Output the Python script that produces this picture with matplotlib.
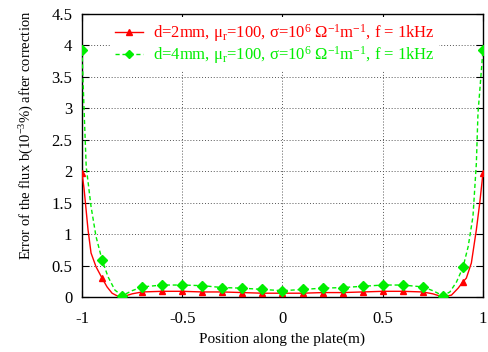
import matplotlib
matplotlib.use("Agg")
import matplotlib.pyplot as plt

plt.rcParams['font.family'] = ['Liberation Serif', 'DejaVu Serif']
plt.rcParams['mathtext.fontset'] = 'custom'
plt.rcParams['mathtext.rm'] = 'Liberation Serif'
plt.rcParams['mathtext.it'] = 'Liberation Serif:italic'

# marker positions (every 0.1 along the plate)
pos_markers = [-1.0, -0.9, -0.8, -0.7, -0.6, -0.5, -0.4, -0.3, -0.2, -0.1, 0.0,
               0.1, 0.2, 0.3, 0.4, 0.5, 0.6, 0.7, 0.8, 0.9, 1.0]
err_2mm_markers = [1.97, 0.30, 0.01, 0.08, 0.09, 0.09, 0.08, 0.08, 0.07, 0.06, 0.06,
                   0.06, 0.07, 0.07, 0.08, 0.09, 0.09, 0.08, 0.0, 0.24, 1.97]
err_4mm_markers = [3.92, 0.59, 0.02, 0.16, 0.19, 0.19, 0.18, 0.15, 0.14, 0.12, 0.10,
                   0.12, 0.14, 0.15, 0.17, 0.19, 0.19, 0.16, 0.02, 0.47, 3.93]

# curves (denser near the edges)
pos_2mm = [-1.0, -0.99, -0.97, -0.955, -0.93, -0.9, -0.875, -0.85, -0.82, -0.8, -0.75,
           -0.7, -0.6, -0.5, -0.4, -0.3, -0.2, -0.1, 0.0, 0.1, 0.2, 0.3, 0.4, 0.5,
           0.6, 0.7, 0.75, 0.8, 0.843, 0.876, 0.9, 0.917, 0.942, 0.967, 0.984, 1.0]
err_2mm = [1.97, 1.73, 1.07, 0.70, 0.48, 0.30, 0.16, 0.06, 0.01, 0.0, 0.05,
           0.08, 0.09, 0.09, 0.08, 0.08, 0.07, 0.06, 0.06, 0.06, 0.07, 0.07, 0.08, 0.09,
           0.09, 0.08, 0.05, 0.0, 0.03, 0.14, 0.24, 0.30, 0.54, 1.07, 1.50, 1.97]

pos_4mm = [-1.0, -0.99, -0.979, -0.955, -0.93, -0.9, -0.87, -0.836, -0.8, -0.75,
           -0.7, -0.6, -0.5, -0.4, -0.3, -0.2, -0.1, 0.0, 0.1, 0.2, 0.3, 0.4, 0.5,
           0.6, 0.7, 0.75, 0.8, 0.835, 0.868, 0.9, 0.926, 0.95, 0.967, 0.975, 1.0]
err_4mm = [3.92, 3.0, 2.07, 1.44, 0.96, 0.59, 0.32, 0.11, 0.02, 0.10,
           0.16, 0.19, 0.19, 0.18, 0.15, 0.14, 0.12, 0.10, 0.12, 0.14, 0.15, 0.17, 0.19,
           0.19, 0.16, 0.10, 0.02, 0.08, 0.24, 0.47, 0.80, 1.28, 2.13, 2.92, 3.93]

label_2mm = 'd=2mm, μ$_{\\rm r}$=100, σ=10$^{6}$ Ω$^{-1}$m$^{-1}$, f = 1kHz'
label_4mm = 'd=4mm, μ$_{\\rm r}$=100, σ=10$^{6}$ Ω$^{-1}$m$^{-1}$, f = 1kHz'

red = '#ff0000'
green = '#00ee00'

fig = plt.figure(figsize=(4.89, 3.52), dpi=100)
ax = fig.add_axes([0.1677, 0.1563, 0.8200, 0.8039])

ax.plot(pos_2mm, err_2mm, color=red, lw=1.0, zorder=3)
ax.plot(pos_markers, err_2mm_markers, ls='none', marker='^', ms=5, color=red, zorder=4)
ax.plot(pos_4mm, err_4mm, color=green, lw=1.0, ls=(0, (3, 2)), zorder=3)
ax.plot(pos_markers, err_4mm_markers, ls='none', marker='D', ms=5, color=green, zorder=4)

# legend proxies: line with marker in the middle
h1, = ax.plot([], [], color=red, lw=1.0, marker='^', ms=5, label=label_2mm)
h2, = ax.plot([], [], color=green, lw=1.0, ls=(0, (3, 2)), marker='D', ms=4.5, label=label_4mm)
leg = ax.legend(handles=[h1, h2], loc='upper left', bbox_to_anchor=(0.07, 0.99),
                frameon=True, framealpha=1, facecolor='white', edgecolor='none',
                fontsize=12, handlelength=1.65, handletextpad=0.6, labelspacing=0.0,
                borderpad=0.3, borderaxespad=0)
for txt, c in zip(leg.get_texts(), [red, green]):
    txt.set_color(c)
leg.set_zorder(5)

ax.set_xlim(-1, 1)
ax.set_ylim(0, 4.5)
ax.set_xticks([-1, -0.5, 0, 0.5, 1])
ax.set_xticklabels(['-1', '-0.5', '0', '0.5', '1'])
ax.set_yticks([0, 0.5, 1, 1.5, 2, 2.5, 3, 3.5, 4, 4.5])
ax.set_yticklabels(['0', '0.5', '1', '1.5', '2', '2.5', '3', '3.5', '4', '4.5'])
ax.tick_params(direction='in', top=True, right=True, length=5, width=0.8, labelsize=12)
ax.tick_params(axis='x', pad=10)
ax.tick_params(axis='y', pad=7)
ax.grid(True, color='#555555', ls=(0, (1, 2)), lw=0.7)
ax.set_axisbelow(True)
for s in ax.spines.values():
    s.set_linewidth(1.0)

ax.set_xlabel('Position along the plate(m)', fontsize=11)
ax.xaxis.set_label_coords(0.5, -0.125)
ax.set_ylabel('Error of the flux b(10$^{-3}$%) after correction', fontsize=10.5)
ax.yaxis.set_label_coords(-0.115, 0.57)

fig.savefig('out.png', dpi=100)
